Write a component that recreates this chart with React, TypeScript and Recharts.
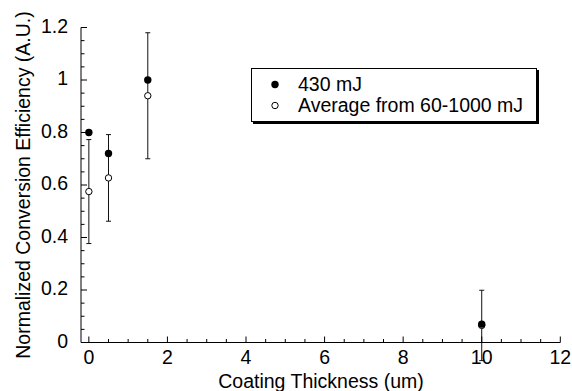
import { ScatterChart, Scatter, XAxis, YAxis, ErrorBar } from "recharts";

// coating thickness (um) and the two measured series
const thickness = [0, 0.5, 1.5, 10];
const eff430 = [0.8, 0.72, 1.0, 0.07];
const effAvg = [0.575, 0.627, 0.94, 0.065];
const effAvgErr = [0.198, 0.165, 0.24, 0.134];

const xMajor = [0, 2, 4, 6, 8, 10, 12];
const yMajor = [0, 0.2, 0.4, 0.6, 0.8, 1, 1.2];
const xTicks = Array.from({ length: 25 }, (_, i) => i * 0.5);
const yTicks = Array.from({ length: 25 }, (_, i) => +(i * 0.05).toFixed(2));

const legendItems = [
  { label: "430 mJ", filled: true },
  { label: "Average from 60-1000 mJ", filled: false },
];

const FONT = '"Liberation Sans", Arial, Helvetica, sans-serif';
const FS = 19.5;

const rows430 = thickness.map((x, i) => ({ x, y: eff430[i] }));
const rowsAvg = thickness.map((x, i) => ({ x, y: effAvg[i], err: effAvgErr[i] }));

const isMajorY = (v: number) => yMajor.some((m) => Math.abs(m - v) < 1e-6);

function BottomTick(props: any) {
  const { x, y, payload } = props;
  const major = xMajor.includes(payload.value);
  return (
    <g>
      <line x1={x} x2={x} y1={y} y2={y - (major ? 6 : 3.5)} stroke="#000" />
      {major && (
        <text x={x} y={y + 21} textAnchor="middle" fill="#000" fontSize={FS} fontFamily={FONT}>
          {payload.value}
        </text>
      )}
    </g>
  );
}

function TopTick(props: any) {
  const { x, y, payload } = props;
  const major = xMajor.includes(payload.value);
  return <line x1={x} x2={x} y1={y} y2={y + (major ? 6 : 3.5)} stroke="#000" />;
}

function LeftTick(props: any) {
  const { x, y, payload } = props;
  const major = isMajorY(payload.value);
  return (
    <g>
      <line x1={x} x2={x + (major ? 6 : 3.5)} y1={y} y2={y} stroke="#000" />
      {major && (
        <text x={x - 13} y={y + 5.3} textAnchor="end" fill="#000" fontSize={FS} fontFamily={FONT}>
          {payload.value}
        </text>
      )}
    </g>
  );
}

function RightTick(props: any) {
  const { x, y, payload } = props;
  const major = isMajorY(payload.value);
  return <line x1={x} x2={x - (major ? 6.5 : 4)} y1={y} y2={y} stroke="#000" />;
}

export default function App() {
  return (
    <div style={{ position: "absolute", left: 0, top: 0, width: 572, height: 391, background: "#fff" }}>
      <ScatterChart width={572} height={391} margin={{ top: 27.5, right: 11.7, bottom: 18.5, left: 21 }}>
        <XAxis
          xAxisId="b"
          type="number"
          dataKey="x"
          domain={[-0.2, 12]}
          allowDataOverflow
          ticks={xTicks}
          interval={0}
          tickSize={0}
          tickMargin={0}
          tickLine={false}
          height={30}
          stroke="#000"
          tick={<BottomTick />}
          label={{
            content: () => (
              <text x={321} y={388} textAnchor="middle" fill="#000" fontSize={FS} fontFamily={FONT}>
                Coating Thickness (um)
              </text>
            ),
          }}
        />
        <XAxis
          xAxisId="t"
          orientation="top"
          type="number"
          dataKey="x"
          domain={[-0.2, 12]}
          allowDataOverflow
          ticks={xTicks}
          interval={0}
          tickSize={0}
          tickMargin={0}
          tickLine={false}
          height={0}
          stroke="#000"
          tick={<TopTick />}
        />
        <YAxis
          yAxisId="l"
          type="number"
          dataKey="y"
          domain={[0, 1.2]}
          allowDataOverflow
          ticks={yTicks}
          interval={0}
          tickSize={0}
          tickMargin={0}
          tickLine={false}
          width={60}
          stroke="#000"
          tick={<LeftTick />}
          label={{
            content: () => (
              <text
                x={23}
                y={185}
                transform="rotate(-90 23 185)"
                textAnchor="middle"
                dominantBaseline="central"
                fill="#000"
                fontSize={FS}
                fontFamily={FONT}
              >
                Normalized Conversion Efficiency (A.U.)
              </text>
            ),
          }}
        />
        <YAxis
          yAxisId="r"
          orientation="right"
          type="number"
          dataKey="y"
          domain={[0, 1.2]}
          allowDataOverflow
          ticks={yTicks}
          interval={0}
          tickSize={0}
          tickMargin={0}
          tickLine={false}
          width={0}
          stroke="#000"
          tick={<RightTick />}
        />
        <Scatter
          data={rowsAvg}
          xAxisId="b"
          yAxisId="l"
          dataKey="y"
          isAnimationActive={false}
          shape={(p: any) => <circle cx={p.cx} cy={p.cy} r={3.2} fill="#fff" stroke="#000" strokeWidth={1} />}
        />
        <Scatter
          data={rowsAvg}
          xAxisId="b"
          yAxisId="l"
          dataKey="y"
          isAnimationActive={false}
          shape={() => <g />}
        >
          <ErrorBar dataKey="err" direction="y" width={2.5} stroke="#111" strokeWidth={1} />
        </Scatter>
        <Scatter
          data={rows430}
          xAxisId="b"
          yAxisId="l"
          dataKey="y"
          isAnimationActive={false}
          shape={(p: any) => <circle cx={p.cx} cy={p.cy} r={3.7} fill="#000" />}
        />
      </ScatterChart>
      <div
        style={{
          position: "absolute",
          left: 251,
          top: 68,
          width: 284,
          height: 52,
          border: "1px solid #000",
          boxShadow: "2px 2px 0 #000",
          background: "#fff",
          fontFamily: FONT,
          fontSize: FS,
          color: "#000",
        }}
      >
        {legendItems.map((it, i) => (
          <div
            key={it.label}
            style={{ position: "absolute", left: 0, top: 5 + i * 21, height: 21, display: "flex", alignItems: "center" }}
          >
            <svg width={46} height={21} style={{ display: "block" }}>
              {it.filled ? (
                <circle cx={23} cy={10.5} r={3.7} fill="#000" />
              ) : (
                <circle cx={23} cy={10.5} r={3.2} fill="#fff" stroke="#000" />
              )}
            </svg>
            <span style={{ lineHeight: "21px", whiteSpace: "nowrap" }}>{it.label}</span>
          </div>
        ))}
      </div>
    </div>
  );
}
